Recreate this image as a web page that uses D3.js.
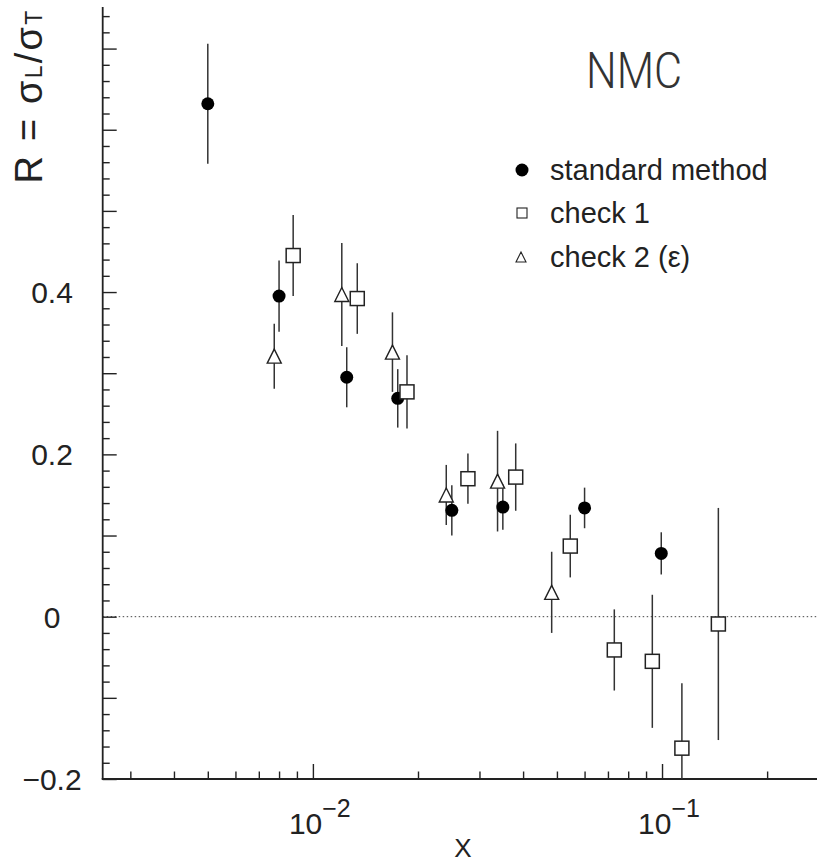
<!DOCTYPE html>
<html><head><meta charset="utf-8">
<script src="https://cdn.jsdelivr.net/npm/d3@7"></script>
<style>body{margin:0;background:#fff;} svg{display:block;}</style>
</head><body>
<svg id="c" width="817" height="863"></svg>
<script>
// ---- data ----
const stdX   = [0.005, 0.008, 0.0125, 0.0175, 0.025, 0.035, 0.060, 0.0995];
const stdR   = [0.632, 0.395, 0.295, 0.269, 0.131, 0.135, 0.134, 0.078];
const stdErr = [0.074, 0.044, 0.037, 0.036, 0.031, 0.028, 0.025, 0.026];

const chk1X   = [0.00878, 0.0134, 0.0186, 0.0278, 0.0381, 0.0546, 0.073, 0.0938, 0.114, 0.145];
const chk1R   = [0.445, 0.392, 0.277, 0.170, 0.172, 0.087, -0.041, -0.055, -0.162, -0.009];
const chk1Err = [0.050, 0.0435, 0.045, 0.031, 0.0415, 0.0386, 0.050, 0.082, 0.080, 0.143];

const chk2X   = [0.00775, 0.0121, 0.0169, 0.0241, 0.0338, 0.0483];
const chk2R   = [0.321, 0.397, 0.326, 0.150, 0.167, 0.030];
const chk2Err = [0.040, 0.0635, 0.049, 0.037, 0.062, 0.050];

const yLabelVals = [-0.2, 0, 0.2, 0.4];
const yLabelText = ["\u22120.2", "0", "0.2", "0.4"];
const yMajor = d3.range(-0.2, 0.7001, 0.1);
const yMinor = d3.range(-0.2, 0.7401, 0.02);
const xMajor = [0.01, 0.1];
const xMinor = [0.003,0.004,0.005,0.006,0.007,0.008,0.009,0.02,0.03,0.04,0.05,0.06,0.07,0.08,0.09,0.2,0.3];
const xLabelExp = ["\u22122", "\u22121"];
const legendNames = ["standard method", "check 1", "check 2 (\u03b5)"];

// ---- layout ----
const L = 102.7, B = 779, T = 8;
const x = d3.scaleLog().domain([0.0025, 0.3]).range([L, 828.6]);
const y = d3.scaleLinear().domain([-0.2, 0.75]).range([B, T]);
const svg = d3.select("#c");
const FONT = "'Liberation Sans', Arial, Helvetica, sans-serif";
const INK = "#222";

svg.append("clipPath").attr("id","pa").append("rect")
  .attr("x", L).attr("y", T).attr("width", 817-L).attr("height", B-T);

// zero dotted line
svg.append("line").attr("x1", L).attr("x2", 817).attr("y1", y(0)).attr("y2", y(0))
  .attr("stroke", "#444").attr("stroke-width", 1).attr("stroke-dasharray", "1.5,2.5");

// axes
function styleAxis(g){ g.select(".domain").remove(); g.selectAll("line").attr("stroke", INK).attr("stroke-width", 1.4); g.selectAll("text").remove(); }
svg.append("g").attr("transform", `translate(${L},0)`).call(d3.axisRight(y).tickValues(yMajor).tickSize(14)).call(styleAxis);
svg.append("g").attr("transform", `translate(${L},0)`).call(d3.axisRight(y).tickValues(yMinor.filter(v=>Math.abs(Math.round(v*10)-v*10)>1e-6)).tickSize(7)).call(styleAxis);
svg.append("g").attr("transform", `translate(0,${B})`).call(d3.axisTop(x).tickValues(xMajor).tickSize(15)).call(styleAxis);
svg.append("g").attr("transform", `translate(0,${B})`).call(d3.axisTop(x).tickValues(xMinor).tickSize(7.5)).call(styleAxis);
svg.append("line").attr("x1", L).attr("x2", L).attr("y1", T-1).attr("y2", B).attr("stroke", INK).attr("stroke-width", 1.8);
svg.append("line").attr("x1", L-1).attr("x2", 817).attr("y1", B).attr("y2", B).attr("stroke", INK).attr("stroke-width", 1.8);

// y labels
svg.append("g").selectAll("text").data(yLabelVals).join("text")
  .attr("x", 52).attr("y", d => y(d) + 11)
  .attr("text-anchor", "middle").attr("font-family", FONT).attr("font-size", 30).attr("fill", INK)
  .text((d,i) => yLabelText[i]);

// x labels
xMajor.forEach((v,i) => {
  const t = svg.append("text").attr("x", x(v) - 24).attr("y", 834)
    .attr("font-family", FONT).attr("font-size", 30).attr("fill", INK);
  t.append("tspan").text("10");
  t.append("tspan").attr("dy", -17).attr("font-size", 25).text(xLabelExp[i]);
});
svg.append("text").attr("x", 463).attr("y", 857).attr("text-anchor","middle")
  .attr("font-family", FONT).attr("font-size", 26).attr("fill", INK).text("X");

// y title
const yt = svg.append("text").attr("transform", "translate(42,96) rotate(-90)")
  .attr("text-anchor", "middle").attr("font-family", FONT).attr("font-size", 38).attr("fill", INK)
  .attr("letter-spacing", 2.2);
yt.append("tspan").text("R = \u03c3");
yt.append("tspan").attr("font-size", 23).text("L");
yt.append("tspan").text("/\u03c3");
yt.append("tspan").attr("font-size", 23).text("T");

// NMC
svg.append("text")
  .attr("x", 586).attr("y", 88).attr("textLength", 96).attr("lengthAdjust","spacingAndGlyphs")
  .attr("font-family", "Roboto, 'Liberation Sans', sans-serif").attr("font-weight", 300).attr("font-size", 50)
  .attr("fill", "#333").text("NMC");

// error bars + markers
const plot = svg.append("g").attr("clip-path", "url(#pa)");
function bars(xs, rs, es){
  plot.append("g").selectAll("line").data(xs).join("line")
    .attr("x1", d => x(d)).attr("x2", d => x(d))
    .attr("y1", (d,i) => y(rs[i] + es[i])).attr("y2", (d,i) => y(rs[i] - es[i]))
    .attr("stroke", "#333").attr("stroke-width", 1.5);
}
bars(stdX, stdR, stdErr); bars(chk1X, chk1R, chk1Err); bars(chk2X, chk2R, chk2Err);

const tri = s => `M0,${-s/2}L${s/2},${s/2}L${-s/2},${s/2}Z`;
plot.append("g").selectAll("circle").data(stdX).join("circle")
  .attr("cx", d => x(d)).attr("cy", (d,i) => y(stdR[i])).attr("r", 6.5).attr("fill", "#000");
plot.append("g").selectAll("rect").data(chk1X).join("rect")
  .attr("x", d => x(d) - 7).attr("y", (d,i) => y(chk1R[i]) - 7).attr("width", 14).attr("height", 14)
  .attr("fill", "#fff").attr("stroke", "#222").attr("stroke-width", 1.5);
plot.append("g").selectAll("path").data(chk2X).join("path")
  .attr("transform", (d,i) => `translate(${x(d)},${y(chk2R[i])})`).attr("d", tri(14))
  .attr("fill", "#fff").attr("stroke", "#222").attr("stroke-width", 1.4);

// legend
const lg = svg.append("g");
const lgY = [170, 213, 257];
lg.append("circle").attr("cx", 522).attr("cy", lgY[0]).attr("r", 6.5).attr("fill", "#000");
lg.append("rect").attr("x", 517).attr("y", lgY[1]-5).attr("width", 10).attr("height", 10)
  .attr("fill", "#fff").attr("stroke", "#222").attr("stroke-width", 1.1);
lg.append("path").attr("transform", `translate(521,${lgY[2]})`).attr("d", tri(10))
  .attr("fill", "#fff").attr("stroke", "#222").attr("stroke-width", 1.1);
lg.selectAll("text").data(legendNames).join("text")
  .attr("x", 550).attr("y", (d,i) => lgY[i] + 10)
  .attr("font-family", FONT).attr("font-size", 29).attr("fill", INK).text(d => d);
</script>
</body></html>
